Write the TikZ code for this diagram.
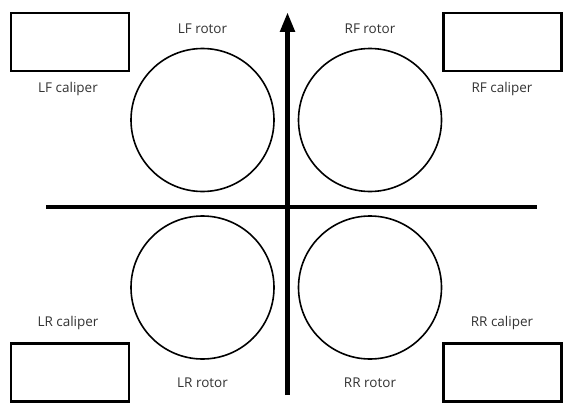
\documentclass[tikz,border=0pt]{standalone}
\usepackage{fontspec}
\setmainfont{Open Sans}
\usepackage{tikz}
\usetikzlibrary{arrows.meta}
\tikzstyle{caliper} = [rectangle, minimum width=118pt, minimum height=58pt, draw=black, line width=2.2pt, inner sep=0pt]
\tikzstyle{rotor} = [circle, minimum size=143pt, draw=black, line width=1.6pt, inner sep=0pt]
\tikzstyle{label} = [font=\fontsize{13.5}{16}\selectfont, text=black!80]
\tikzstyle{axis} = [line width=4pt]

\begin{document}
\begin{tikzpicture}[x=1pt, y=-1pt]
                    \useasboundingbox (0,0) rectangle (564,412);

                    \node (lfc) [caliper] at (70, 42) {};
                    \node (rfc) [caliper] at (502.5, 42) {};
                    \node (lrc) [caliper] at (70, 372.5) {};
                    \node (rrc) [caliper] at (502.5, 372.5) {};

                    \node (lfr) [rotor] at (202.5, 120) {};
                    \node (rfr) [rotor] at (370, 120) {};
                    \node (lrr) [rotor] at (202.5, 287.5) {};
                    \node (rrr) [rotor] at (370, 287.5) {};

                    \node [label] at (68, 89) {LF caliper};
                    \node [label] at (502, 89) {RF caliper};
                    \node [label] at (68, 323) {LR caliper};
                    \node [label] at (502, 323) {RR caliper};

                    \node [label] at (202.5, 29) {LF rotor};
                    \node [label] at (370, 29) {RF rotor};
                    \node [label] at (202.5, 383) {LR rotor};
                    \node [label] at (370, 383) {RR rotor};

                    \coordinate (back) at (287.5, 395);
                    \coordinate (front) at (287.5, 12);
                    \coordinate (left) at (46, 207);
                    \coordinate (right) at (537, 207);

                    \draw[axis, line width=5pt, -{Triangle[width=14pt, length=20pt]}] (back) -- (front);
                    \draw[axis] (left) -- (right);
                \end{tikzpicture}
\end{document}
